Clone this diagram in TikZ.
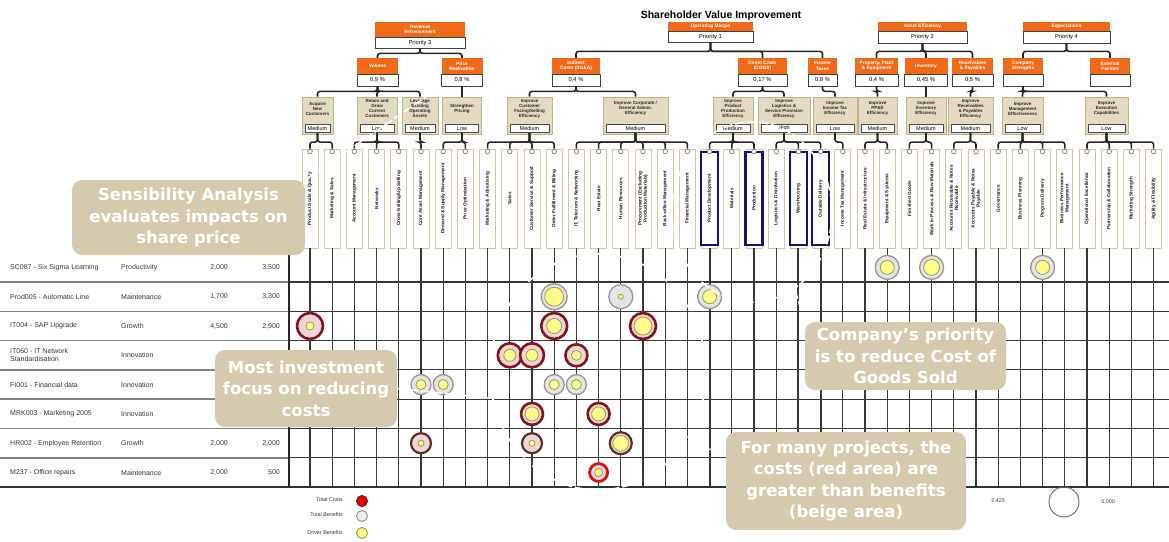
\documentclass[tikz,border=0pt]{standalone}
\usepackage{fontspec}
\setmainfont{Liberation Sans}
\newfontfamily\calloutfont{DejaVu Sans}
\usepackage{tikz}
\definecolor{orangehead}{RGB}{241,106,26}
\definecolor{goalfill}{RGB}{228,218,193}
\definecolor{goalline}{RGB}{196,176,136}
\definecolor{cardline}{RGB}{214,196,160}
\definecolor{navy}{RGB}{18,18,118}
\definecolor{calloutbg}{RGB}{213,202,174}
\definecolor{gridgray}{RGB}{55,55,55}
\definecolor{rowgray}{RGB}{130,130,130}
\definecolor{costred}{RGB}{128,22,32}
\definecolor{costfill}{RGB}{238,214,214}
\definecolor{costbrown}{RGB}{92,44,38}
\definecolor{brightred}{RGB}{214,18,18}
\definecolor{bengray}{RGB}{150,150,150}
\definecolor{benfill}{RGB}{228,228,228}
\definecolor{drvyellow}{RGB}{255,250,140}
\definecolor{drvline}{RGB}{150,160,80}
\definecolor{tabgray}{RGB}{55,55,55}

\begin{document}
\begin{tikzpicture}[x=1pt, y=-1pt,
  headbox/.style={fill=orangehead, text=white, inner sep=0pt, align=center,
    font=\bfseries\fontsize{4.8}{5.4}\selectfont},
  valbox/.style={draw=black!75, line width=0.8pt, fill=white, inner sep=0pt,
    font=\fontsize{5.8}{6.4}\selectfont},
  goalbox/.style={draw=goalline, fill=goalfill, line width=0.8pt, inner sep=0pt},
  goaltext/.style={inner sep=0pt, align=center, text=black!85,
    font=\bfseries\fontsize{4.5}{5}\selectfont},
  ratebox/.style={draw=black!70, line width=0.6pt, fill=white, inner sep=0pt,
    minimum height=8.5pt, font=\fontsize{5.5}{6}\selectfont},
  card/.style={draw=cardline, fill=white, line width=0.9pt, inner sep=0pt,
    minimum width=16pt, minimum height=99pt},
  cardtext/.style={rotate=90, inner sep=0pt, align=center, text=black!90,
    font=\bfseries\fontsize{4.7}{5.2}\selectfont},
  bluecard/.style={draw=navy, line width=2.6pt, inner sep=0pt,
    minimum width=17pt, minimum height=93pt},
  link/.style={draw=black!85, line width=1.6pt, rounded corners=2.5pt},
  knob/.style={draw=black!55, fill=white, line width=0.6pt},
  gridln/.style={draw=gridgray, line width=1.1pt},
  tabcell/.style={inner sep=0pt, align=left, text=tabgray,
    font=\fontsize{7}{8}\selectfont},
  ben/.style={draw=bengray, fill=benfill, line width=1.3pt},
  cost/.style={draw=costred, fill=costfill, line width=2.6pt},
  costd/.style={draw=costbrown, fill=costfill, line width=2.2pt},
  costr/.style={draw=brightred, fill=costfill, line width=2.8pt},
  driver/.style={draw=drvline, fill=drvyellow, line width=0.8pt},
  whiteln/.style={draw=white, line width=1.6pt, dash pattern=on 9pt off 3pt},
  callout/.style={fill=calloutbg, rounded corners=10pt, text=white, align=center,
    inner sep=0pt, font=\calloutfont\bfseries\fontsize{16.5}{21.5}\selectfont},
  legtext/.style={inner sep=0pt, text=tabgray, font=\fontsize{5.4}{6}\selectfont}]

  \useasboundingbox (0,0) rectangle (1169,541);

  \node[font=\bfseries\fontsize{10.5}{12}\selectfont] (title) at (721,16)
    {Shareholder Value Improvement};

  % top level
  \node[headbox, minimum width=90pt, minimum height=15pt] (rev) at (420,29.5) {Revenue\\Enhancement};
  \node[valbox, minimum width=90pt, minimum height=11pt] (rev-v) at (420,42.5) {Priority 3};
  \node[headbox, minimum width=85pt, minimum height=9pt] (opm) at (710.5,26.5) {Operating Margin};
  \node[valbox, minimum width=85pt, minimum height=11pt] (opm-v) at (710.5,36.5) {Priority 1};
  \node[headbox, minimum width=89pt, minimum height=9pt] (ast) at (922.5,26.5) {Asset Efficiency};
  \node[valbox, minimum width=89pt, minimum height=12pt] (ast-v) at (922.5,37) {Priority 2};
  \node[headbox, minimum width=87pt, minimum height=9pt] (exp) at (1066.5,26.5) {Expectations};
  \node[valbox, minimum width=87pt, minimum height=12pt] (exp-v) at (1066.5,37) {Priority 4};

  % drivers
  \foreach \n/\x/\w/\t/\v in {vol/377.5/41/Volume/{0,9 \%},
      pri/462/41/{Price\\Realization}/{0,8 \%},
      ind/576/48/{Indirect\\Costs (SG\&A)}/{0,4 \%},
      dir/762.5/49/{Direct Costs\\(COGS)}/{0,17 \%},
      tax/822.5/29/{Income\\Taxes}/{0,8 \%},
      ppe/876.5/43/{Property, Plant\\\& Equipment}/{0,4 \%},
      inv/926/43/Inventory/{0,45 \%},
      rec/972.5/41/{Receivables\\\& Payables}/{0,5 \%},
      cst/1023/40/{Company\\Strengths}/{},
      ext/1110/40/{External\\Factors}/{}}
  {
    \node[headbox, minimum width=\w, minimum height=16pt] (\n) at (\x,66) {\t};
    \node[valbox, minimum width=\w, minimum height=12pt] (\n-v) at (\x,80) {\v};
  }

  % goals
  \foreach \n/\x/\w/\t/\r in {acq/317.5/31/{Acquire\\New\\Customers}/Medium,
      ret/377/40/{Retain and\\Grow\\Current\\Customers}/Low,
      lev/420/36/{Leverage\\Existing\\Operating\\Assets}/Medium,
      str/462/39/{Strengthen\\Pricing}/Low,
      cus/529.5/45/{Improve\\Customer\\Facing/Selling\\Efficiency}/Medium,
      cor/635.5/65/{Improve Corporate /\\General Admin.\\Efficiency}/Medium,
      pro/733/40/{Improve\\Product\\Production\\Efficiency}/Medium,
      log/784/52/{Improve\\Logistics \&\\Service Provision\\Efficiency}/High,
      inc/835/44/{Improve\\Income Tax\\Efficiency}/Low,
      ppg/877.5/39/{Improve\\PP\&E\\Efficiency}/Medium,
      ivg/926/40/{Improve\\Inventory\\Efficiency}/Medium,
      rcg/970.5/45/{Improve\\Receivables\\\& Payables\\Efficiency}/Medium,
      man/1022.5/41/{Improve\\Management\\Effectiveness}/Low,
      exe/1106.5/43/{Improve\\Execution\\Capabilities}/Low}
  {
    \node[goalbox, minimum width=\w, minimum height=37pt] (\n) at (\x,115.5) {};
    \node[goaltext] (\n-t) at (\x,108.5) {\t};
    \node[ratebox, minimum width=\w-6] (\n-r) at (\x,128.5) {\r};
  }

  % cards and grid columns
  \foreach \k/\t in {0/{Product Scale \& Quality}, 1/{Marketing \& Sales},
      2/{Account Management}, 3/{Networks}, 4/{Cross-Selling/Up-Selling},
      5/{Core Asset Management}, 6/{Demand \& Supply Management},
      7/{Price Optimization}, 8/{Marketing \& Advertising}, 9/{Sales},
      10/{Customer Service \& Support}, 11/{Order Fulfillment \& Billing},
      12/{IT, Telecom \& Networking}, 13/{Real Estate}, 14/{Human Resources},
      15/{Procurement (Excluding\\Production Materials)}, 16/{Back-office Management},
      17/{Financial Management}, 18/{Product Development}, 19/{Materials},
      20/{Production}, 21/{Logistics \& Distribution}, 22/{Warehousing},
      23/{Outside Delivery}, 24/{Income Tax Management},
      25/{Real Estate \& Infrastructure}, 26/{Equipment \& Systems},
      27/{Finished Goods}, 28/{Work in Process \& Raw Materials},
      29/{Accounts Receivable \& Notes\\Receivable}, 30/{Accounts Payable \& Notes\\Payable},
      31/{Governance}, 32/{Business Planning}, 33/{Program Delivery},
      34/{Business Performance\\Management}, 35/{Operational Excellence},
      36/{Partnership \& Collaboration}, 37/{Marketing Strength},
      38/{Agility \& Flexibility}}
  {
    \pgfmathsetmacro{\cx}{310+22.2*\k}
    \node[card] (c\k) at (\cx,198.5) {};
    \node[cardtext] (c\k-t) at (c\k) {\t};
    \draw[gridln] (c\k.south) -- (\cx,487);
  }
  \foreach \k in {18,20,22,23} {
    \node[bluecard] (bc\k) at (c\k) {};
    \draw[gridln, line width=2pt] (c\k.south) -- (c\k.south |- 0,487);
  }

  % tree links
  \foreach \c in {vol,pri} \draw[link] (rev-v.south) -- ++(0,5) -| (\c.north);
  \foreach \c in {ind,dir,tax} \draw[link] (opm-v.south) -- ++(0,9) -| (\c.north);
  \foreach \c in {ppe,inv,rec} \draw[link] (ast-v.south) -- ++(0,8) -| (\c.north);
  \foreach \c in {cst,ext} \draw[link] (exp-v.south) -- ++(0,8) -| (\c.north);
  \foreach \p/\c in {vol/acq,vol/ret,vol/lev,pri/str,ind/cus,ind/cor,dir/pro,
      dir/log,tax/inc,ppe/ppg,inv/ivg,rec/rcg,cst/man,cst/exe}
    \draw[link] (\p-v.south) -- ++(0,5) -| (\c.north);
  \foreach \k/\p in {0/acq,1/acq,2/ret,3/ret,4/ret,5/lev,6/str,7/str,8/cus,
      9/cus,10/cus,11/cus,12/cor,13/cor,14/cor,15/cor,16/cor,17/cor,18/pro,
      19/pro,20/pro,21/log,22/log,23/log,24/inc,25/ppg,26/ppg,27/ivg,28/ivg,
      29/rcg,30/rcg,31/man,32/man,33/man,34/man,35/exe,36/exe,37/exe,38/exe}
  {
    \draw[link] (\p-r.south) -- ++(0,9) -| (c\k.north);
    \draw[knob] (c\k.north) ++(0,3) circle (2.3);
  }

  % project table
  \foreach \r in {0,...,6} {
    \draw[rowgray, line width=1.6pt] (0,{282+29.3*\r}) -- (289,{282+29.3*\r});
    \draw[gridln] (289,{282+29.3*\r}) -- (1169,{282+29.3*\r});
  }
  \draw[black!80, line width=2pt] (0,487) -- (1169,487);
  \draw[black!85, line width=2pt] (289,249) -- (289,487);

  \foreach \r/\p/\c/\a/\b in {0/{SC087 - Six Sigma Learning}/Productivity/{2,000}/{3,500},
      1/{Prod005 - Automatic Line}/Maintenance/{1,700}/{3,300},
      2/{IT004 - SAP Upgrade}/Growth/{4,500}/{2,900},
      3/{IT060 - IT Network\\Standardisation}/Innovation/{}/{},
      4/{FI001 - Financial data}/Innovation/{}/{},
      5/{MRK003 - Marketing 2005}/Innovation/{}/{},
      6/{HR002 - Employee Retention}/Growth/{2,000}/{2,000},
      7/{M237 - Office repairs}/Maintenance/{2,000}/{500}}
  {
    \pgfmathsetmacro{\ry}{267.4+29.3*\r}
    \node[tabcell, anchor=west] (pj\r) at (10,\ry) {\p};
    \node[tabcell, anchor=west] (ct\r) at (121,\ry) {\c};
    \node[tabcell, anchor=east] (na\r) at (228,\ry) {\a};
    \node[tabcell, anchor=east] (nb\r) at (280,\ry) {\b};
  }

  % bubbles
  \foreach \k/\r/\s/\o/\i in {26/0/ben/12/7, 28/0/ben/12/8, 33/0/ben/12/7,
      11/1/ben/13/9.5, 14/1/ben/12/2.5, 18/1/ben/12/7,
      0/2/cost/13/4, 11/2/cost/13/7.5, 15/2/cost/13/9,
      9/3/cost/12/6, 10/3/cost/12/6, 12/3/cost/11/5,
      5/4/ben/10/5, 6/4/ben/10/5, 11/4/ben/10/5, 12/4/ben/10/5,
      10/5/cost/11/7, 13/5/cost/11/7,
      5/6/costd/10/3, 10/6/costd/10/3, 14/6/costd/11/8,
      13/7/costr/9/4}
  {
    \pgfmathsetmacro{\bx}{310+22.2*\k}
    \pgfmathsetmacro{\by}{267.4+29.3*\r}
    \draw[\s] (\bx,\by) circle (\o);
    \draw[driver] (\bx,\by) circle (\i);
  }

  % legend and scale
  \node[legtext, anchor=east] (lgc) at (343,500) {Total Costs};
  \node[legtext, anchor=east] (lgb) at (343,515) {Total Benefits};
  \node[legtext, anchor=east] (lgd) at (343,533) {Driver Benefits};
  \draw[draw=costred, fill=red!90!black, line width=1pt] (362,501) circle (5.5);
  \draw[draw=bengray, fill=benfill!60!white, line width=1pt] (362,516) circle (5.5);
  \draw[draw=drvline, fill=drvyellow, line width=1pt] (362,533) circle (5.5);
  \node[legtext] (slo) at (998,501) {2,425};
  \draw[black!60, line width=0.9pt] (1064,502) circle (15);
  \node[legtext] (shi) at (1108,502) {5,000};

  % white markings
  \draw[whiteln] (598,372) ellipse [x radius=108, y radius=118];
  \draw[whiteln] (752,212) ellipse [x radius=80, y radius=90];
  \coordinate (redleft) at (490,398);
  \coordinate (redright) at (692,450);
  \coordinate (blueend) at (795,290);
  \coordinate (prihit) at (452,79);

  % callouts
  \node[callout, minimum width=233pt, minimum height=75pt] (sens) at (188.5,217.5)
    {Sensibility Analysis\\evaluates impacts on\\share price};
  \node[callout, minimum width=182pt, minimum height=77pt] (focus) at (306,388.5)
    {Most investment\\focus on reducing\\costs};
  \node[callout, minimum width=201pt, minimum height=68pt] (prio) at (905.5,356)
    {Company’s priority\\is to reduce Cost of\\Goods Sold};
  \node[callout, minimum width=240pt, minimum height=98pt] (many) at (846,481)
    {For many projects, the\\costs (red area) are\\greater than  benefits\\(beige area)};

  \draw[whiteln] (focus.east) -- (redleft);
  \draw[whiteln] (many.165) -- (redright);
  \draw[whiteln] (blueend) -- (prio.north west);
  \draw[whiteln] (sens.north east) -- (prihit);

\end{tikzpicture}
\end{document}
